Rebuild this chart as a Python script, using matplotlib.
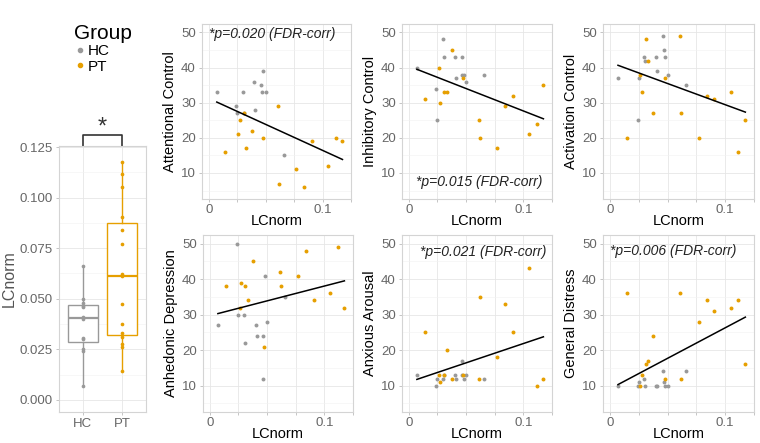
import numpy as np
import matplotlib.pyplot as plt
from matplotlib.lines import Line2D

plt.rcParams['font.family'] = ['Liberation Sans', 'DejaVu Sans']

#---------------------------------------
# data
hc_lc = [0.007, 0.024, 0.025, 0.030, 0.0305, 0.040, 0.041, 0.046, 0.0465, 0.048, 0.050, 0.066]
pt_lc = [0.0144, 0.026, 0.0276, 0.031, 0.033, 0.0376, 0.0476, 0.061, 0.062, 0.077, 0.084, 0.0906, 0.105, 0.1115, 0.1175]

hc_attn = [33, 29, 27, 33, 27, 36, 28, 35, 33, 39, 33, 15]
pt_attn = [16, 21, 25, 27, 17, 22, 20, 29, 7, 11, 6, 19, 12, 20, 19]
hc_inhib = [40, 34, 25, 48, 43, 43, 37, 43, 38, 38, 36, 38]
pt_inhib = [31, 40, 30, 33, 33, 45, 37, 25, 20, 17, 29, 32, 21, 24, 35]
hc_activ = [37, 25, 37, 43, 42, 43, 39, 49, 45, 43, 38, 35]
pt_activ = [20, 38, 33, 48, 42, 27, 37, 49, 27, 20, 32, 31, 33, 16, 25]
hc_anhed = [27, 50, 30, 30, 22, 27, 24, 24, 12, 41, 28, 35]
pt_anhed = [38, 32, 39, 38, 34, 45, 21, 42, 38, 41, 48, 34, 36, 49, 32]
hc_anx = [13, 10, 12, 12, 13, 13, 12, 17, 13, 12, 13, 12]
pt_anx = [25, 13, 11, 13, 20, 12, 13, 12, 35, 18, 33, 25, 43, 10, 12]
hc_dist = [10, 10, 11, 12, 10, 10, 10, 14, 11, 10, 10, 14]
pt_dist = [36, 10, 13, 16, 17, 24, 12, 36, 12, 28, 34, 31, 32, 34, 16]

groups = ['HC', 'PT']
grey = '#999999'
orange = '#E69F00'

#---------------------------------------
W, H = 760, 443
fig = plt.figure(figsize=(W / 100, H / 100), dpi=100)


def add_ax(l, t, r, b):
    return fig.add_axes([l / W, 1 - b / H, (r - l) / W, (b - t) / H])


def style(ax):
    for s in ax.spines.values():
        s.set_color('#D4D4D4')
        s.set_linewidth(0.8)
    ax.set_facecolor('white')
    ax.grid(True, which='major', color='#E6E6E6', lw=0.6)
    ax.grid(True, which='minor', color='#F2F2F2', lw=0.4)
    ax.set_axisbelow(True)
    ax.tick_params(which='major', colors='#BBBBBB', labelcolor='#666666',
                   labelsize=9.5, length=2.5, width=0.6, pad=2)
    ax.tick_params(which='minor', length=0)


# boxplot panel
bax = add_ax(59, 146, 146, 412)
style(bax)
bp = bax.boxplot([hc_lc, pt_lc], positions=[1, 2], widths=0.75, showfliers=False,
                 patch_artist=True, medianprops=dict(lw=1.6), capprops=dict(lw=0))
for i, c in enumerate([grey, orange]):
    bp['boxes'][i].set(facecolor='white', edgecolor=c, lw=1.0)
    bp['medians'][i].set(color=c)
    for w in bp['whiskers'][2 * i:2 * i + 2]:
        w.set(color=c, lw=1.0)
bax.scatter(np.full(len(hc_lc), 1.0), hc_lc, s=7, color=grey, zorder=3, lw=0)
bax.scatter(np.full(len(pt_lc), 2.0), pt_lc, s=7, color=orange, zorder=3, lw=0)
bax.set_xlim(0.4, 2.6)
bax.set_ylim(-0.006, 0.1255)
bax.set_yticks([0, 0.025, 0.05, 0.075, 0.1, 0.125])
bax.set_yticklabels(['0.000', '0.025', '0.050', '0.075', '0.100', '0.125'])
bax.set_yticks([0.0125, 0.0375, 0.0625, 0.0875, 0.1125], minor=True)
bax.set_xticks([1, 2])
bax.set_xticklabels(groups)
bax.set_ylabel('LCnorm', fontsize=11.5, color='#555555', labelpad=2)
# significance bracket
bax.plot([1, 1, 2, 2], [0.1255, 0.131, 0.131, 0.1255], color='#333333', lw=1.2, clip_on=False)
bax.text(1.5, 0.1345, '*', ha='center', va='center', fontsize=17, color='#333333')

# legend
handles = [Line2D([], [], marker='o', ls='', color=c, markersize=3) for c in [grey, orange]]
fig.legend(handles, groups, title='Group', loc='upper left', bbox_to_anchor=(66 / W, 1 - 16 / H),
           frameon=False, fontsize=11, title_fontsize=15, handletextpad=0.1,
           labelspacing=0.1, handlelength=0.8, borderpad=0, alignment='left')

#---------------------------------------
panels = [
    ('Attentional Control', hc_attn, pt_attn, (202, 24, 351, 199), (0.0, 49.5, 'left')),
    ('Inhibitory Control', hc_inhib, pt_inhib, (402, 24, 552, 199), (0.0617, 7.3, 'center')),
    ('Activation Control', hc_activ, pt_activ, (603, 24, 754, 199), None),
    ('Anhedonic Depression', hc_anhed, pt_anhed, (203, 235, 353, 412), None),
    ('Anxious Arousal', hc_anx, pt_anx, (402, 235, 552, 412), (0.0095, 47.6, 'left')),
    ('General Distress', hc_dist, pt_dist, (603, 235, 754, 412), (0.0, 47.9, 'left')),
]
pvals = ['*p=0.020 (FDR-corr)', '*p=0.015 (FDR-corr)', '*p=0.021 (FDR-corr)', '*p=0.006 (FDR-corr)']

k = 0
for name, hc, pt, box, ann in panels:
    ax = add_ax(*box)
    style(ax)
    ax.tick_params(axis='x', pad=1)
    ax.scatter(hc_lc, hc, s=8, color=grey, lw=0, zorder=3)
    ax.scatter(pt_lc, pt, s=8, color=orange, lw=0, zorder=3)
    x_all = np.r_[hc_lc, pt_lc]
    y_all = np.r_[hc, pt]
    b1, b0 = np.polyfit(x_all, y_all, 1)
    xs = np.array([x_all.min(), x_all.max()])
    ax.plot(xs, b0 + b1 * xs, color='black', lw=1.1, zorder=4)
    ax.set_xlim(-0.006, 0.1248)
    ax.set_ylim(2.6, 52.4)
    ax.set_xticks([0, 0.025, 0.05, 0.075, 0.1, 0.125])
    ax.set_xticklabels(['0', '', '', '', '0.1', ''])
    ax.set_yticks([10, 20, 30, 40, 50])
    ax.set_yticks([5, 15, 25, 35, 45], minor=True)
    ax.set_xlabel('LCnorm', fontsize=10.5, labelpad=-1)
    ax.set_ylabel(name, fontsize=10.5, labelpad=3)
    if ann is not None:
        ax.text(ann[0], ann[1], pvals[k], ha=ann[2], va='center', fontsize=10,
                style='italic', color='#222222', zorder=5)
        k += 1

fig.savefig('out.png', dpi=100)
